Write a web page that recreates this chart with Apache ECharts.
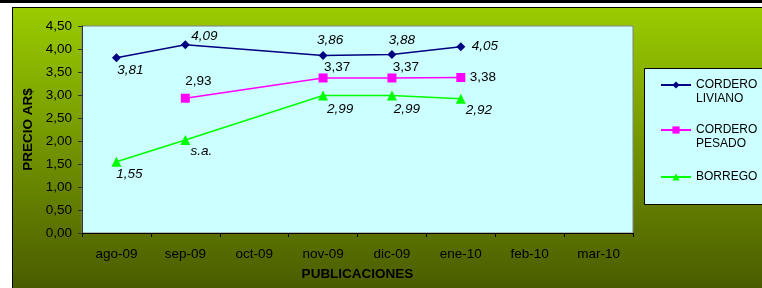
<!DOCTYPE html>
<html>
<head>
<meta charset="utf-8">
<script src="https://cdn.jsdelivr.net/npm/echarts@6/dist/echarts.min.js"></script>
<style>
  html, body { margin: 0; padding: 0; background: #fff; }
  #chart { width: 762px; height: 288px; }
</style>
</head>
<body>
<div id="chart"></div>
<script>
const months = ['ago-09', 'sep-09', 'oct-09', 'nov-09', 'dic-09', 'ene-10', 'feb-10', 'mar-10']
const yTicks = [0, 0.5, 1, 1.5, 2, 2.5, 3, 3.5, 4, 4.5]
const seriesNames = ['CORDERO LIVIANO', 'CORDERO PESADO', 'BORREGO']
const liviano = [3.81, 4.09, null, 3.86, 3.88, 4.05, null, null]
const pesado = [null, 2.93, null, 3.37, 3.37, 3.38, null, null]
const borrego = [1.55, 2.02, null, 2.99, 2.99, 2.92, null, null]
// texto que se muestra en lugar del valor (s.a. = sin dato)
const borregoText = ['', 's.a.', '', '', '', '', '', '']

// desplazamiento de cada etiqueta respecto del punto
const offLiviano = [[14, 13], [19, -9], null, [7, -15], [10, -14], [24, 0]]
const offPesado = [null, [13, -17], null, [14, -11], [14, -11], [22, 0]]
const offBorrego = [[13, 13], [16, 11], null, [17, 14], [15, 14], [18, 12]]

const FONT = 'Liberation Sans, Arial, sans-serif'
const fmt = v => Number(v).toFixed(2).replace('.', ',')

function buildData(values, offsets, italic, texts) {
    return values.map((v, i) => {
        if (v == null) return null
        const o = offsets[i] || [0, 0]
        return {
            value: v,
            label: {
                show: true,
                position: 'inside',
                offset: o,
                color: '#000',
                fontFamily: FONT,
                fontSize: 13.5,
                fontStyle: italic ? 'italic' : 'normal',
                formatter: (texts && texts[i]) ? texts[i] : fmt(v)
            }
        }
    })
}

const colors = ['#000080', '#ff00ff', '#00ff00']
const symbols = ['diamond', 'rect', 'triangle']
const sizes = [9, 9, 10]
const dataSets = [
    buildData(liviano, offLiviano, true),
    buildData(pesado, offPesado, false),
    buildData(borrego, offBorrego, true, borregoText)
]

// nombres de dos palabras: linea vacia arriba para que la primera quede a la altura del icono
const legendTops = [64, 109, 170]
const legends = seriesNames.map((n, i) => ({
    data: [n],
    left: 660,
    top: legendTops[i],
    padding: 0,
    itemWidth: 30,
    itemHeight: 9,
    formatter: name => name.indexOf(' ') > 0 ? '\n' + name.replace(' ', '\n') : name,
    textStyle: {
        fontFamily: FONT,
        fontSize: 12,
        color: '#000',
        lineHeight: 14
    }
}))

const chart = echarts.init(document.getElementById('chart'))
const option = {
    animation: false,
    backgroundColor: '#fff',
    graphic: [
        { type: 'rect', z: -10, shape: { x: 0, y: 0, width: 762, height: 3 }, style: { fill: '#000' } },
        { type: 'rect', z: -10, shape: { x: 12, y: 7, width: 750, height: 281 }, style: { fill: '#000' } },
        {
            type: 'rect', z: -9, shape: { x: 13, y: 8, width: 749, height: 280 },
            style: {
                fill: new echarts.graphic.LinearGradient(0, 0, 0, 1, [
                    { offset: 0, color: '#9acc00' },
                    { offset: 1, color: '#4a5c00' }
                ])
            }
        },
        { type: 'rect', z: 1, shape: { x: 644.5, y: 68.5, width: 130, height: 136 }, style: { fill: '#ccffff', stroke: '#000', lineWidth: 1 } }
    ],
    legend: legends,
    grid: {
        left: 82, right: 129, top: 26, bottom: 55,
        show: true,
        backgroundColor: '#ccffff',
        borderColor: '#808080',
        borderWidth: 1
    },
    xAxis: {
        type: 'category',
        data: months,
        boundaryGap: true,
        name: 'PUBLICACIONES',
        nameLocation: 'middle',
        nameGap: 34,
        nameTextStyle: { fontFamily: FONT, fontSize: 13.5, fontWeight: 'bold', color: '#000' },
        axisLine: { lineStyle: { color: '#000', width: 1 } },
        axisTick: { show: true, length: 4, lineStyle: { color: '#000' } },
        axisLabel: { margin: 14, fontFamily: FONT, fontSize: 13.5, color: '#000', interval: 0 },
        splitLine: { show: false }
    },
    yAxis: {
        type: 'value',
        min: yTicks[0],
        max: yTicks[yTicks.length - 1],
        interval: yTicks[1] - yTicks[0],
        name: 'PRECIO AR$',
        nameLocation: 'middle',
        nameGap: 44,
        nameTextStyle: { fontFamily: FONT, fontSize: 13.5, fontWeight: 'bold', color: '#000' },
        axisLine: { show: true, lineStyle: { color: '#333', width: 1 } },
        axisTick: { show: true, length: 4, lineStyle: { color: '#333' } },
        axisLabel: { margin: 10, fontFamily: FONT, fontSize: 13.5, color: '#000', formatter: fmt },
        splitLine: { show: false }
    },
    series: seriesNames.map((n, i) => ({
        name: n,
        type: 'line',
        data: dataSets[i],
        connectNulls: true,
        symbol: symbols[i],
        symbolSize: sizes[i],
        showAllSymbol: true,
        color: colors[i],
        lineStyle: { color: colors[i], width: 1.5 },
        itemStyle: { color: colors[i] },
        z: 3 + i
    }))
}
chart.setOption(option)
</script>
</body>
</html>
